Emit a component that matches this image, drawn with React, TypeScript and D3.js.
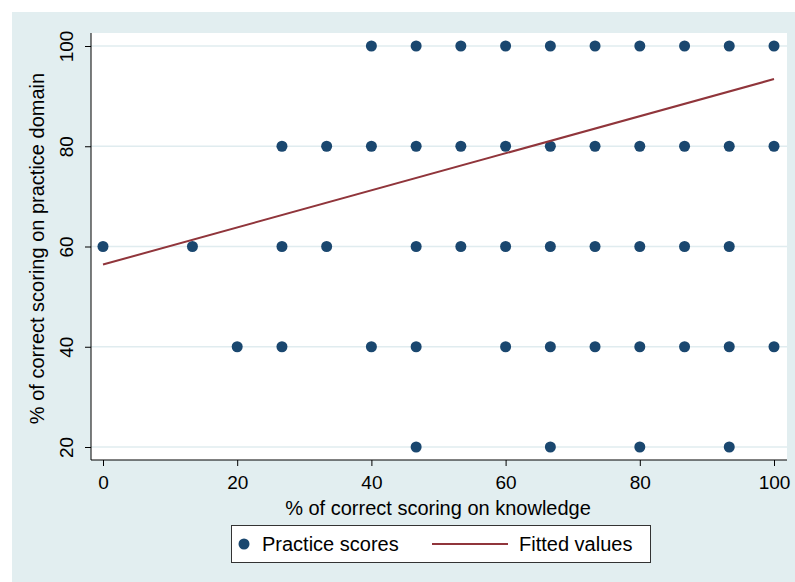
import * as d3 from 'd3';
import React, { useEffect, useRef } from 'react';

// practice scores by row (y value) -> knowledge scores (x values)
const row100 = [40, 46.67, 53.33, 60, 66.67, 73.33, 80, 86.67, 93.33, 100];
const row80 = [26.67, 33.33, 40, 46.67, 53.33, 60, 66.67, 73.33, 80, 86.67, 93.33, 100];
const row60 = [0, 13.33, 26.67, 33.33, 46.67, 53.33, 60, 66.67, 73.33, 80, 86.67, 93.33];
const row40 = [20, 26.67, 40, 46.67, 60, 66.67, 73.33, 80, 86.67, 93.33, 100];
const row20 = [46.67, 66.67, 80, 93.33];

const fittedX = [0, 100];
const fittedY = [56.4, 93.4];

const xTicks = [0, 20, 40, 60, 80, 100];
const yTicks = [20, 40, 60, 80, 100];

const W = 795;
const H = 582;
const navy = '#1a476f';
const maroon = '#90353b';
const font = 'Liberation Sans, Arial, Helvetica, sans-serif';

export default function App() {
    const ref = useRef<SVGSVGElement>(null);

    useEffect(() => {
        const svg = d3.select(ref.current);
        svg.selectAll('*').remove();

        const plot = { left: 91, right: 787, top: 33, bottom: 460 };

        const x = d3.scaleLinear().domain([0, 100]).range([103, 774]);
        const y = d3.scaleLinear().domain([20, 100]).range([447, 46]);

        svg.append('rect')
            .attr('x', 0).attr('y', 0).attr('width', W).attr('height', H)
            .attr('fill', '#ffffff');

        svg.append('rect')
            .attr('x', 12).attr('y', 12).attr('width', W - 12).attr('height', H - 12)
            .attr('fill', '#e2eef0');

        svg.append('rect')
            .attr('x', plot.left).attr('y', plot.top)
            .attr('width', plot.right - plot.left).attr('height', plot.bottom - plot.top)
            .attr('fill', '#ffffff');

        // grid lines
        svg.append('g')
            .selectAll('line')
            .data(yTicks)
            .enter()
            .append('line')
            .attr('x1', plot.left).attr('x2', plot.right)
            .attr('y1', d => y(d)).attr('y2', d => y(d))
            .style('stroke', '#e0ecef')
            .style('stroke-width', 1.5);

        // y axis
        const yAxis = svg.append('g')
            .attr('transform', `translate(${plot.left}, 0)`)
            .call(d3.axisLeft(y).tickValues(yTicks).tickSize(6).tickPadding(8).tickSizeOuter(0));
        yAxis.select('.domain').remove();
        yAxis.append('line')
            .attr('x1', 0).attr('x2', 0).attr('y1', plot.top).attr('y2', plot.bottom)
            .style('stroke', '#000').style('stroke-width', 1);
        yAxis.selectAll('.tick line').style('stroke', '#000');
        yAxis.selectAll('.tick text')
            .attr('x', null).attr('dy', null)
            .attr('text-anchor', 'middle')
            .attr('transform', 'translate(-18, 0) rotate(-90)')
            .style('font-family', font)
            .style('font-size', '19px')
            .style('fill', '#000');

        // x axis
        const xAxis = svg.append('g')
            .attr('transform', `translate(0, ${plot.bottom})`)
            .call(d3.axisBottom(x).tickValues(xTicks).tickSize(6).tickPadding(10).tickSizeOuter(0));
        xAxis.select('.domain').remove();
        xAxis.append('line')
            .attr('x1', plot.left).attr('x2', plot.right).attr('y1', 0).attr('y2', 0)
            .style('stroke', '#000').style('stroke-width', 1);
        xAxis.selectAll('.tick line').style('stroke', '#000');
        xAxis.selectAll('.tick text')
            .style('font-family', font)
            .style('font-size', '19px')
            .style('fill', '#000');

        // points
        const rows: [number, number[]][] = [[100, row100], [80, row80], [60, row60], [40, row40], [20, row20]];
        const points = rows.flatMap(([py, xs]) => xs.map(px => ({ px, py })));
        svg.append('g')
            .selectAll('circle')
            .data(points)
            .enter()
            .append('circle')
            .attr('cx', d => x(d.px))
            .attr('cy', d => y(d.py))
            .attr('r', 5.5)
            .style('fill', navy);

        // fitted line
        const line = d3.line<number>()
            .x(d => x(d))
            .y((d, i) => y(fittedY[i]));
        svg.append('path')
            .attr('d', line(fittedX))
            .style('stroke', maroon)
            .style('stroke-width', 2)
            .style('fill', 'none');

        // axis titles
        svg.append('text')
            .attr('x', 438).attr('y', 515)
            .attr('text-anchor', 'middle')
            .style('font-family', font).style('font-size', '20px')
            .text('% of correct scoring on knowledge');

        svg.append('text')
            .attr('transform', `translate(44, ${(y(20) + y(100)) / 2 + 2}) rotate(-90)`)
            .attr('text-anchor', 'middle')
            .style('font-family', font).style('font-size', '20px')
            .text('% of correct scoring on practice domain');

        // legend
        const legend = svg.append('g');
        legend.append('rect')
            .attr('x', 231.5).attr('y', 525.5).attr('width', 419).attr('height', 37)
            .style('fill', '#fff').style('stroke', '#333').style('stroke-width', 1);
        legend.append('circle')
            .attr('cx', 244).attr('cy', 544).attr('r', 5.5)
            .style('fill', navy);
        legend.append('text')
            .attr('x', 262).attr('y', 551)
            .style('font-family', font).style('font-size', '20px')
            .text('Practice scores');
        legend.append('line')
            .attr('x1', 432).attr('x2', 508).attr('y1', 544).attr('y2', 544)
            .style('stroke', maroon).style('stroke-width', 2);
        legend.append('text')
            .attr('x', 519).attr('y', 551)
            .style('font-family', font).style('font-size', '20px')
            .text('Fitted values');
    }, []);

    return (
        <svg ref={ref} width={W} height={H} style={{ position: 'absolute', left: 0, top: 0 }} />
    );
}
